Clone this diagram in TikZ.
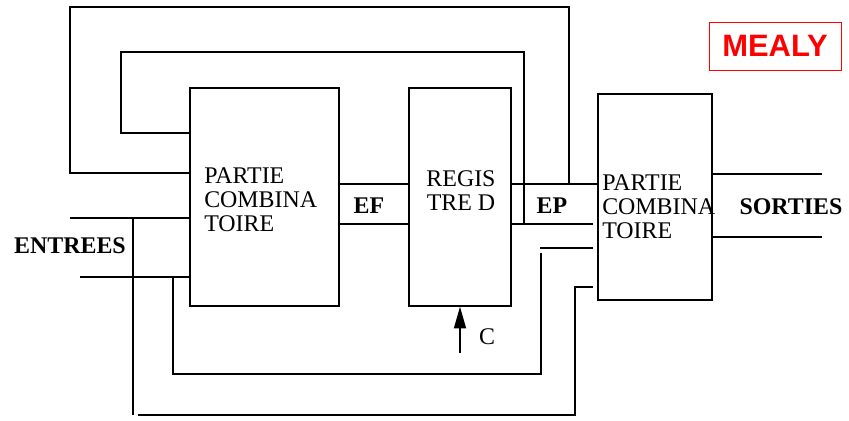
\documentclass[tikz,border=0pt]{standalone}
\usepackage{fontspec}
\setmainfont{Liberation Serif}
\newfontfamily\mealyfont{Liberation Sans}
\usetikzlibrary{arrows.meta,positioning,calc}
\definecolor{mealyred}{HTML}{FF0000}
\tikzset{
  bloc/.style={draw=black,line width=1pt,inner sep=0pt},
  blocdesc/.style={inner sep=0pt,font=\fontsize{17}{17}\selectfont},
  busname/.style={inner sep=0pt,font=\fontsize{17}{17}\selectfont\bfseries},
  wire/.style={line width=1pt,draw=black},
  clockarr/.style={-{Triangle[length=5.4mm,width=3mm]},line width=1pt,
                   draw=black},
  titlebox/.style={draw=mealyred,line width=0.6pt,text=mealyred,
                   minimum width=3.3cm,minimum height=1.2cm,inner sep=0pt,
                   font=\mealyfont\fontsize{22}{22}\selectfont\bfseries}
}
\begin{document}
\begin{tikzpicture}[x=0.025cm,y=-0.025cm]
    \path[use as bounding box] (0,0) rectangle (849,421);

    \node[bloc,minimum width=3.725cm,minimum height=5.45cm] (pcA) at (264.5,197) {};
    \node[bloc,minimum width=2.55cm,minimum height=5.45cm] (reg) at (460,197) {};
    \node[bloc,minimum width=2.85cm,minimum height=5.15cm] (pcB) at (655,197) {};
    \node[blocdesc,align=left,anchor=west] (pcAtxt) at (204,200)
      {PARTIE\\COMBINA\\TOIRE};
    \node[blocdesc,align=center] (regtxt) at (461,190.5) {REGIS\\TRE D};
    \node[blocdesc,align=left,anchor=west] (pcBtxt) at (602,206.5)
      {PARTIE\\COMBINA\\TOIRE};
    \node[busname] (ef) at (369,206) {EF};
    \node[busname] (ep) at (552,206) {EP};
    \node[busname] (entrees) at (70,246) {ENTREES};
    \node[busname] (sorties) at (791,207) {SORTIES};
    \node[blocdesc] (clk) at (487,337) {C};
    \node[titlebox] (mealy) at (775,46) {MEALY};

    \coordinate (inHi) at (70,218);
    \coordinate (inLo) at (80,277);
    \coordinate (outHi) at (822,174);
    \coordinate (outLo) at (822,237);
    \coordinate (clkfoot) at (459,353);

    \draw[wire] (pcA.east |- 0,184) -- (reg.west |- 0,184);
    \draw[wire] (pcA.east |- 0,224) -- (reg.west |- 0,224);
    \draw[wire] (reg.east |- 0,184) -- (pcB.west |- 0,184);
    \draw[wire] (reg.east |- 0,224) -- (593,224);
    \draw[wire] (pcA.west |- 0,173) -| (70,7) -| (569,184);
    \draw[wire] (pcA.west |- 0,133) -| (121,52) -| (524,224);
    \draw[wire] (inHi) -- (pcA.west |- inHi);
    \draw[wire] (inLo) -- (pcA.west |- inLo);
    \draw[wire] (133,218) -- (133,415);
    \draw[wire] (138,415) -| (575,287) -- (593,287);
    \draw[wire] (173,277) |- (541,374) -- (541,253);
    \draw[wire] (540,248) -- (593,248);
    \draw[wire] (pcB.east |- outHi) -- (outHi);
    \draw[wire] (pcB.east |- outLo) -- (outLo);
    \draw[clockarr] (reg.south |- clkfoot) -- (reg.south);
\end{tikzpicture}
\end{document}
